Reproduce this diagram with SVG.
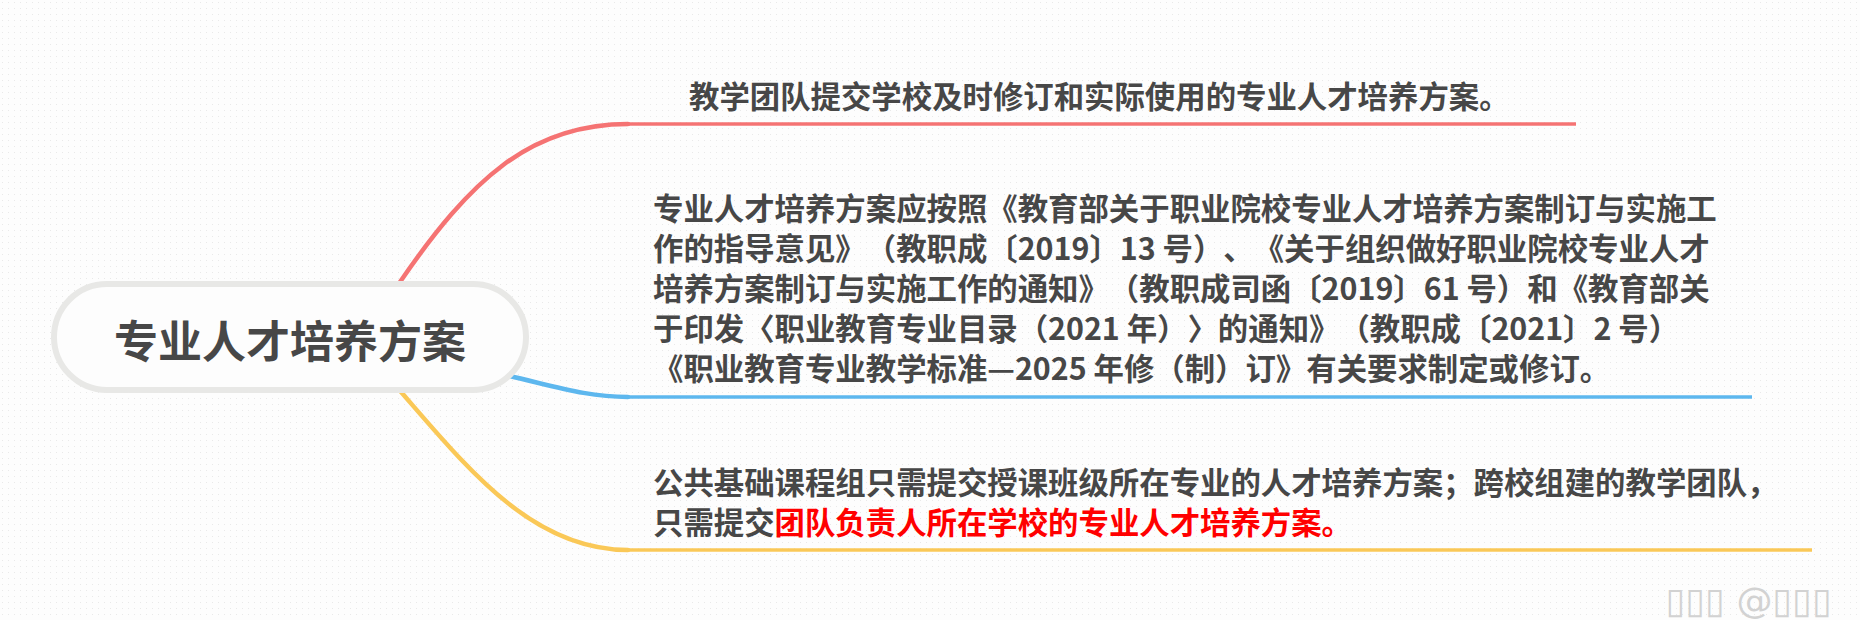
<svg xmlns="http://www.w3.org/2000/svg" width="1860" height="620" viewBox="0 0 1860 620">
  <defs>
    <pattern id="dots" x="0" y="0" width="6" height="6" patternUnits="userSpaceOnUse">
      <rect x="2" y="2" width="1" height="1" fill="#e9e9e9"/>
    </pattern>
  </defs>
  <style>
    .t { font-family: "Noto Sans CJK SC", "Noto Sans", sans-serif; fill: #474747; font-weight: 700; text-spacing-trim: space-all; font-kerning: none; }
    .body { font-size: 30.4px; }
    .hl { fill: #ff0000; }
    .branch { fill: none; stroke-linecap: round; }
    .red { stroke: #f57373; }
    .blue { stroke: #5db7ee; }
    .yellow { stroke: #fac857; }
    .curve { stroke-width: 4.5; }
    .line { stroke-width: 3.5; stroke-linecap: butt; }
    .wm { font-family: "DejaVu Sans", sans-serif; fill: #d2d2d2; font-size: 36px; }
  </style>
  <rect width="1860" height="620" fill="#fdfdfd"/>
  <rect width="1860" height="620" fill="url(#dots)"/>

  <g id="connectors">
    <path class="branch red curve" d="M400,282 C470,180 530,124 628,124"/>
    <path class="branch red line" d="M626,124 H1576"/>
    <path class="branch blue curve" d="M492,372 C555,386 585,397 628,397"/>
    <path class="branch blue line" d="M626,397 H1752"/>
    <path class="branch yellow curve" d="M395,385 C465,465 530,550 628,550"/>
    <path class="branch yellow line" d="M626,550 H1812"/>
  </g>

  <g id="root">
    <rect x="54" y="284" width="472" height="106" rx="53" ry="53" fill="#fdfdfd" stroke="#e8e8e6" stroke-width="6"/>
    <text class="t" x="290" y="358" font-size="44" text-anchor="middle">专业人才培养方案</text>
  </g>

  <g id="node-red">
    <text class="t body" x="689" y="108">教学团队提交学校及时修订和实际使用的专业人才培养方案。</text>
  </g>

  <g id="node-blue">
    <text class="t body" x="653" y="220">专业人才培养方案应按照《教育部关于职业院校专业人才培养方案制订与实施工</text>
    <text class="t body" x="653" y="260">作的指导意见》（教职成〔2019〕13 号）、《关于组织做好职业院校专业人才</text>
    <text class="t body" x="653" y="300">培养方案制订与实施工作的通知》（教职成司函〔2019〕61 号）和《教育部关</text>
    <text class="t body" x="653" y="340">于印发〈职业教育专业目录（2021 年）〉的通知》（教职成〔2021〕2 号）</text>
    <text class="t body" x="653" y="380">《职业教育专业教学标准—2025 年修（制）订》有关要求制定或修订。</text>
  </g>

  <g id="node-yellow">
    <text class="t body" x="653" y="494">公共基础课程组只需提交授课班级所在专业的人才培养方案；跨校组建的教学团队，</text>
    <text class="t body" x="653" y="534">只需提交<tspan class="hl">团队负责人所在学校的专业人才培养方案。</tspan></text>
  </g>

  <text class="wm" x="1832" y="613" text-anchor="end">▯▯▯ @▯▯▯</text>
</svg>
